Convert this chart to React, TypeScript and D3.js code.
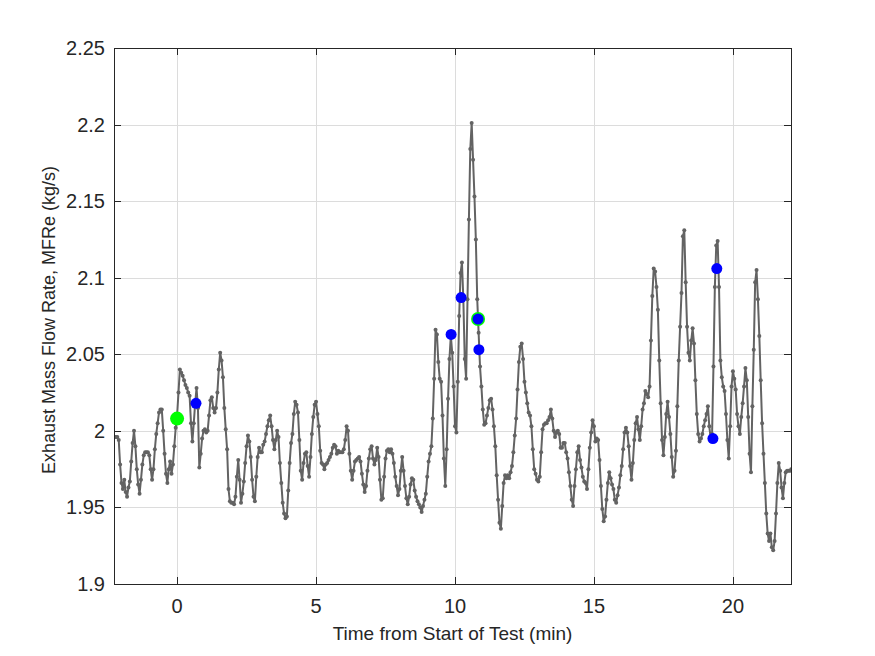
import { FC, useEffect, useRef } from "react"
import * as d3 from 'd3';

// sampled every 0.05 min, starting at -2.3 min
const T_START = -2.3
const T_STEP = 0.05
const flowRate = [
    1.996, 1.996, 1.996, 1.996, 1.994, 1.978, 1.966, 1.962, 1.968, 1.960,
    1.957, 1.963, 1.967, 1.980, 1.992, 2.000, 1.990, 1.975, 1.965, 1.959,
    1.968, 1.978, 1.984, 1.986, 1.986, 1.986, 1.984, 1.975, 1.968, 1.975,
    1.988, 1.998, 2.005, 2.012, 2.014, 2.014, 2.000, 1.985, 1.972, 1.966,
    1.975, 1.980, 1.972, 1.978, 1.990, 2.002, 2.010, 2.025, 2.040, 2.038,
    2.036, 2.033, 2.030, 2.028, 2.025, 2.023, 2.005, 1.993, 2.005, 2.018,
    2.028, 2.015, 1.976, 1.985, 1.995, 2.000, 2.001, 1.999, 2.000, 2.010,
    2.020, 2.022, 2.015, 2.012, 2.015, 2.025, 2.040, 2.051, 2.046, 2.035,
    2.015, 2.001, 1.988, 1.962, 1.954, 1.953, 1.953, 1.952, 1.957, 1.970,
    1.981, 1.968, 1.953, 1.959, 1.967, 1.979, 1.990, 1.997, 1.993, 1.983,
    1.968, 1.957, 1.954, 1.970, 1.983, 1.989, 1.986, 1.986, 1.991, 1.993,
    1.998, 2.003, 2.007, 2.010, 2.003, 1.994, 1.988, 1.994, 2.000, 1.996,
    1.979, 1.966, 1.953, 1.946, 1.943, 1.944, 1.961, 1.979, 1.992, 1.998,
    2.011, 2.019, 2.017, 2.012, 1.994, 1.974, 1.968, 1.979, 1.985, 1.986,
    1.977, 1.970, 1.983, 1.998, 2.009, 2.017, 2.019, 2.011, 2.003, 1.987,
    1.979, 1.978, 1.975, 1.978, 1.979, 1.981, 1.983, 1.985, 1.989, 1.991,
    1.990, 1.985, 1.987, 1.986, 1.986, 1.986, 1.988, 1.994, 2.003, 2.000,
    1.985, 1.974, 1.968, 1.974, 1.980, 1.981, 1.982, 1.983, 1.980, 1.972,
    1.965, 1.960, 1.964, 1.974, 1.982, 1.988, 1.990, 1.982, 1.978, 1.981,
    1.989, 1.983, 1.968, 1.955, 1.956, 1.970, 1.982, 1.987, 1.988, 1.986,
    1.988, 1.985, 1.979, 1.970, 1.964, 1.958, 1.962, 1.974, 1.983, 1.974,
    1.964, 1.956, 1.952, 1.957, 1.965, 1.969, 1.968, 1.961, 1.957, 1.954,
    1.952, 1.950, 1.947, 1.951, 1.955, 1.959, 1.970, 1.980, 1.985, 1.990,
    2.008, 2.034, 2.066, 2.063, 2.045, 2.034, 2.032, 2.010, 1.982, 1.964,
    1.988, 2.021, 2.047, 2.062, 2.051, 2.029, 2.003, 1.999, 2.032, 2.075,
    2.103, 2.110, 2.086, 2.047, 2.034, 2.086, 2.138, 2.184, 2.201, 2.177,
    2.153, 2.125, 2.086, 2.064, 2.042, 2.029, 2.014, 2.004, 2.005, 2.010,
    2.015, 2.020, 2.021, 2.014, 2.003, 1.990, 1.971, 1.955, 1.940, 1.936,
    1.951, 1.966, 1.971, 1.969, 1.971, 1.969, 1.973, 1.977, 1.986, 1.997,
    2.008, 2.027, 2.045, 2.055, 2.057, 2.047, 2.032, 2.025, 2.018, 2.012,
    2.010, 2.003, 1.988, 1.975, 1.972, 1.968, 1.967, 1.970, 1.986, 2.001,
    2.004, 2.005, 2.005, 2.007, 2.009, 2.014, 2.008, 2.000, 1.996, 1.999,
    2.000, 1.998, 1.989, 1.989, 1.992, 1.992, 1.986, 1.982, 1.973, 1.964,
    1.955, 1.951, 1.964, 1.975, 1.986, 1.990, 1.981, 1.976, 1.970, 1.967,
    1.966, 1.962, 1.975, 1.989, 1.999, 2.007, 2.003, 1.993, 1.995, 1.994,
    1.981, 1.964, 1.949, 1.941, 1.944, 1.955, 1.966, 1.973, 1.969, 1.965,
    1.962, 1.955, 1.953, 1.958, 1.963, 1.971, 1.977, 1.988, 1.999, 2.002,
    1.999, 1.990, 1.977, 1.968, 1.979, 1.994, 2.005, 2.009, 2.001, 1.994,
    2.003, 2.014, 2.018, 2.026, 2.024, 2.022, 2.029, 2.059, 2.088, 2.106,
    2.104, 2.094, 2.079, 2.046, 2.018, 1.994, 1.984, 1.996, 2.011, 2.019,
    2.009, 1.998, 1.983, 1.970, 1.974, 1.987, 2.016, 2.046, 2.068, 2.090,
    2.127, 2.131, 2.097, 2.068, 2.051, 2.046, 2.059, 2.067, 2.057, 2.033,
    2.011, 1.998, 1.993, 1.995, 1.998, 2.003, 2.007, 2.011, 2.016, 2.003,
    1.995, 1.998, 2.042, 2.094, 2.121, 2.124, 2.094, 2.046, 2.035, 2.029,
    2.026, 2.011, 1.994, 1.982, 2.003, 2.029, 2.039, 2.034, 2.027, 2.011,
    2.003, 1.998, 2.009, 2.018, 2.029, 2.041, 2.033, 2.009, 1.985, 1.973,
    2.016, 2.053, 2.097, 2.105, 2.086, 2.062, 2.033, 2.005, 1.985, 1.966,
    1.946, 1.933, 1.928, 1.933, 1.924, 1.922, 1.928, 1.946, 1.966, 1.979,
    1.974, 1.963, 1.956, 1.966, 1.973, 1.974, 1.974, 1.974, 1.975,
]
// highlighted events
const blueTimes = [0.68, 9.86, 10.22, 10.83, 10.86, 19.28, 19.42]
const blueValues = [2.018, 2.063, 2.087, 2.073, 2.053, 1.995, 2.106]
const greenTimes = [0, 10.83]
const greenValues = [2.008, 2.073]

const xTicks = [0, 5, 10, 15, 20]
const yTicks = [1.9, 1.95, 2, 2.05, 2.1, 2.15, 2.2, 2.25]

const Chart: FC = () => {
    const svgRef = useRef<SVGSVGElement>(null)

    useEffect(() => {
        const width = 875
        const height = 656
        const left = 114, right = 791, top = 48, bottom = 584
        const axisColor = '#262626'
        const font = 'Liberation Sans, Arial, Helvetica, sans-serif'

        const svg = d3.select(svgRef.current)
            .attr('width', width)
            .attr('height', height)
            .style('background', '#fff')
        svg.selectAll('*').remove()

        const xScale = d3.scaleLinear().domain([-2.27, 22.09]).range([left, right])
        const yScale = d3.scaleLinear().domain([1.9, 2.25]).range([bottom, top])

        // grid
        const grid = svg.append('g').attr('stroke', '#dcdcdc').attr('stroke-width', 1)
        xTicks.forEach(t => {
            grid.append('line')
                .attr('x1', Math.round(xScale(t)) + 0.5).attr('x2', Math.round(xScale(t)) + 0.5)
                .attr('y1', top).attr('y2', bottom)
        })
        yTicks.forEach(t => {
            grid.append('line')
                .attr('y1', Math.round(yScale(t)) + 0.5).attr('y2', Math.round(yScale(t)) + 0.5)
                .attr('x1', left).attr('x2', right)
        })

        // data
        const data: Array<[number, number]> = flowRate.map((v, i) => [T_START + i * T_STEP, v])
        svg.append('clipPath').attr('id', 'plot-clip')
            .append('rect').attr('x', left).attr('y', top).attr('width', right - left).attr('height', bottom - top)
        const plot = svg.append('g').attr('clip-path', 'url(#plot-clip)')

        const line = d3.line<[number, number]>()
            .x(d => xScale(d[0]))
            .y(d => yScale(d[1]))
        plot.append('path')
            .datum(data)
            .attr('d', line)
            .attr('fill', 'none')
            .attr('stroke', '#636363')
            .attr('stroke-width', 2)
            .attr('stroke-linejoin', 'round')
        plot.selectAll('.pt')
            .data(data)
            .join('circle')
            .attr('class', 'pt')
            .attr('cx', d => xScale(d[0]))
            .attr('cy', d => yScale(d[1]))
            .attr('r', 2)
            .attr('fill', '#636363')

        plot.selectAll('.green')
            .data(greenTimes)
            .join('circle')
            .attr('class', 'green')
            .attr('cx', (d) => xScale(d))
            .attr('cy', (_, i) => yScale(greenValues[i]))
            .attr('r', 7)
            .attr('fill', '#00ff00')
        plot.selectAll('.blue')
            .data(blueTimes)
            .join('circle')
            .attr('class', 'blue')
            .attr('cx', (d) => xScale(d))
            .attr('cy', (_, i) => yScale(blueValues[i]))
            .attr('r', 5.5)
            .attr('fill', '#0000ff')

        // axes box with inward ticks
        const axes = svg.append('g').attr('stroke', axisColor).attr('stroke-width', 1)
        axes.append('rect')
            .attr('x', left + 0.5).attr('y', top + 0.5)
            .attr('width', right - left).attr('height', bottom - top)
            .attr('fill', 'none')
        const tickLen = 7
        xTicks.forEach(t => {
            const x = Math.round(xScale(t)) + 0.5
            axes.append('line').attr('x1', x).attr('x2', x).attr('y1', bottom).attr('y2', bottom - tickLen)
            axes.append('line').attr('x1', x).attr('x2', x).attr('y1', top).attr('y2', top + tickLen)
        })
        yTicks.forEach(t => {
            const y = Math.round(yScale(t)) + 0.5
            axes.append('line').attr('y1', y).attr('y2', y).attr('x1', left).attr('x2', left + tickLen)
            axes.append('line').attr('y1', y).attr('y2', y).attr('x1', right).attr('x2', right - tickLen)
        })

        // tick labels
        svg.append('g')
            .selectAll('text')
            .data(xTicks)
            .join('text')
            .attr('x', d => xScale(d))
            .attr('y', 613)
            .attr('text-anchor', 'middle')
            .attr('font-family', font)
            .attr('font-size', 20)
            .attr('fill', axisColor)
            .text(d => d3.format('~g')(d))
        svg.append('g')
            .selectAll('text')
            .data(yTicks)
            .join('text')
            .attr('x', 105)
            .attr('y', d => yScale(d) + 7)
            .attr('text-anchor', 'end')
            .attr('font-family', font)
            .attr('font-size', 20)
            .attr('fill', axisColor)
            .text(d => d3.format('~g')(d))

        // axis labels
        svg.append('text')
            .attr('x', (left + right) / 2)
            .attr('y', 640)
            .attr('text-anchor', 'middle')
            .attr('font-family', font)
            .attr('font-size', 19)
            .attr('fill', axisColor)
            .text('Time from Start of Test (min)')
        svg.append('text')
            .attr('transform', `translate(55,${(top + bottom) / 2 + 4}) rotate(-90)`)
            .attr('text-anchor', 'middle')
            .attr('font-family', font)
            .attr('font-size', 18)
            .attr('fill', axisColor)
            .text('Exhaust Mass Flow Rate, MFRe (kg/s)')
    }, [])

    return (
        <svg ref={svgRef} style={{ position: 'absolute', left: 0, top: 0 }}></svg>
    )
}

export default function App() {
    return <Chart />
}
